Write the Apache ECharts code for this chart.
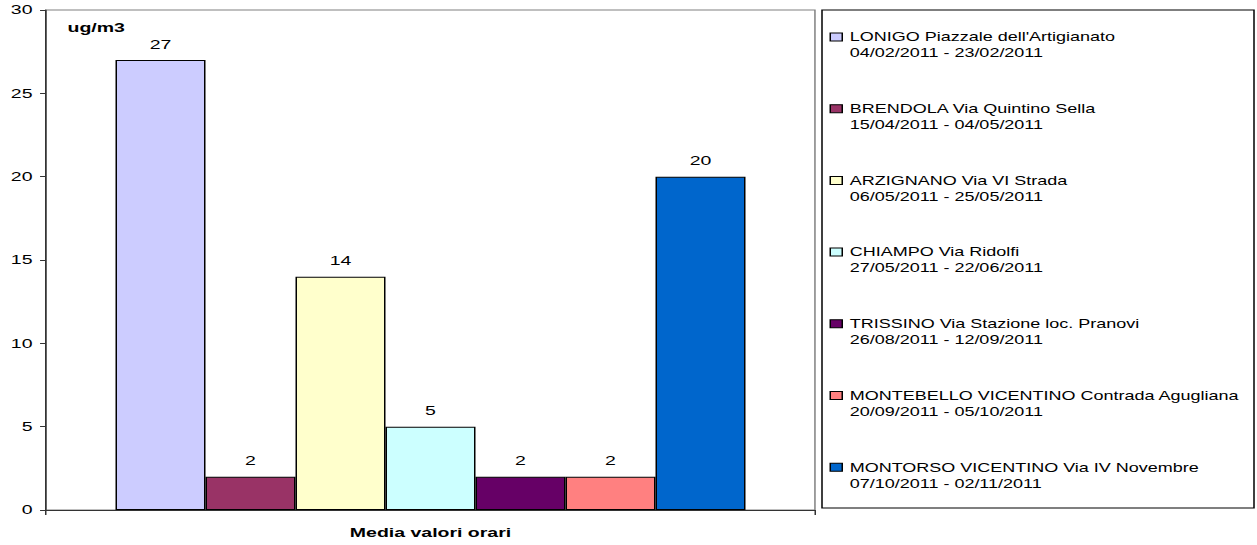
<!DOCTYPE html>
<html>
<head>
<meta charset="utf-8">
<title>Media valori orari</title>
<script src="https://cdn.jsdelivr.net/npm/echarts@6/dist/echarts.min.js"></script>
<style>
  html, body { margin: 0; padding: 0; background: #fff; overflow: hidden; }
  /* the chart is laid out narrow and stretched horizontally, like the original wide export */
  #chart { width: 838px; height: 545px; transform: scaleX(1.5); transform-origin: 0 0; }
</style>
</head>
<body>
<div id="chart"></div>
<script>
// Monitoring sites, campaign periods and hourly mean values (ug/m3)
const stations = [
  "LONIGO Piazzale dell'Artigianato",
  'BRENDOLA Via Quintino Sella',
  'ARZIGNANO Via VI Strada',
  'CHIAMPO Via Ridolfi',
  'TRISSINO Via Stazione loc. Pranovi',
  'MONTEBELLO VICENTINO Contrada Agugliana',
  'MONTORSO VICENTINO Via IV Novembre'
];
const periods = [
  '04/02/2011 - 23/02/2011',
  '15/04/2011 - 04/05/2011',
  '06/05/2011 - 25/05/2011',
  '27/05/2011 - 22/06/2011',
  '26/08/2011 - 12/09/2011',
  '20/09/2011 - 05/10/2011',
  '07/10/2011 - 02/11/2011'
];
const values = [27, 2, 14, 5, 2, 2, 20];
const categories = ['Media valori orari'];
const unitLabel = 'ug/m3';
const yTicks = { min: 0, max: 30, interval: 5 };

const palette = ['#CCCCFF', '#993366', '#FFFFCC', '#CCFFFF', '#660066', '#FF8080', '#0066CC'];
const FONT = "'Liberation Sans', Arial, sans-serif";

const periodOf = {};
stations.forEach((s, i) => { periodOf[s] = periods[i]; });

const chart = echarts.init(document.getElementById('chart'), null, { renderer: 'svg' });

chart.setOption({
  animation: false,
  backgroundColor: '#fff',
  textStyle: { fontFamily: FONT },
  title: {
    text: unitLabel,
    left: 45,
    top: 21,
    padding: 0,
    textStyle: { fontFamily: FONT, fontSize: 13, fontWeight: 'bold', color: '#000' }
  },
  grid: {
    left: 30.7,
    right: 294.7,
    top: 10,
    bottom: 35,
    show: true,
    borderColor: '#808080',
    borderWidth: 1,
    backgroundColor: '#fff'
  },
  graphic: [{
    type: 'rect',
    shape: { x: 548, y: 10, width: 288, height: 498 },
    style: { fill: 'none', stroke: '#000', lineWidth: 1 },
    z: 1
  }],
  legend: {
    orient: 'vertical',
    left: 553,
    top: 13,
    padding: 0,
    itemGap: 23.7,
    itemWidth: 8,
    itemHeight: 8,
    icon: 'rect',
    selectedMode: false,
    itemStyle: { borderColor: '#000', borderWidth: 1 },
    // leading blank line keeps the site name level with its colour key
    formatter: name => '\n' + name + '\n' + periodOf[name],
    textStyle: {
      fontFamily: FONT,
      fontSize: 12,
      lineHeight: 16,
      color: '#000'
    },
    data: stations
  },
  xAxis: {
    type: 'category',
    data: categories,
    axisLine: { show: true, lineStyle: { color: '#333', width: 1 } },
    axisTick: { show: true, length: 5, lineStyle: { color: '#333' } },
    axisLabel: { margin: 16, fontFamily: FONT, fontSize: 13, fontWeight: 'bold', color: '#000' },
    splitLine: { show: false }
  },
  yAxis: {
    type: 'value',
    min: yTicks.min,
    max: yTicks.max,
    interval: yTicks.interval,
    axisLine: { show: true, lineStyle: { color: '#333', width: 1 } },
    axisTick: { show: true, length: 4, lineStyle: { color: '#333' } },
    axisLabel: { margin: 9, fontFamily: FONT, fontSize: 13, color: '#000' },
    splitLine: { show: false }
  },
  series: stations.map((name, i) => ({
    name: name,
    type: 'bar',
    barWidth: 60,
    barGap: '0%',
    data: [values[i]],
    itemStyle: { color: palette[i], borderColor: '#000', borderWidth: 1 },
    label: {
      show: true,
      position: 'top',
      distance: 9,
      fontFamily: FONT,
      fontSize: 13,
      color: '#000'
    }
  }))
});
</script>
</body>
</html>
